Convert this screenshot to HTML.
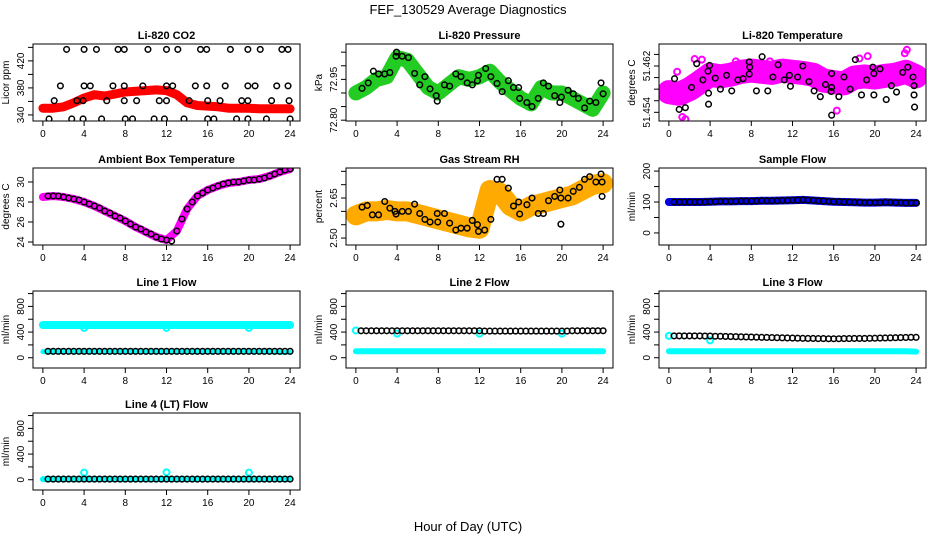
<!DOCTYPE html>
<html><head><meta charset="utf-8"><style>
html,body{margin:0;padding:0;background:#fff;}
svg{display:block;font-family:"Liberation Sans",Arial,sans-serif;}
</style></head><body>
<svg id="chart" width="936" height="540" viewBox="0 0 936 540" xmlns="http://www.w3.org/2000/svg">
<text x="468" y="14" text-anchor="middle" font-size="13">FEF_130529  Average Diagnostics</text>
<text x="468" y="531" text-anchor="middle" font-size="13">Hour of Day (UTC)</text>
</svg>
<script>
const HOURS=[0,1,2,3,4,5,6,7,8,9,10,11,12,13,14,15,16,17,18,19,20,21,22,23,24];
const HALF=[0.5,1,1.5,2,2.5,3,3.5,4,4.5,5,5.5,6,6.5,7,7.5,8,8.5,9,9.5,10,10.5,11,11.5,12,12.5,13,13.5,14,14.5,15,15.5,16,16.5,17,17.5,18,18.5,19,19.5,20,20.5,21,21.5,22,22.5,23,23.5,24];
const XTICKS=[0,4,8,12,16,20,24];

const co2Band=[350,350,352,358,365,370,368,371,374,375,376,377,376,370,358,354,353,352,350,350,350,349,349,349,349];
const co2Hours=[2.3,4.0,5.2,7.3,7.9,10.2,12.0,13.1,15.3,15.9,18.2,19.9,21.1,23.2,23.8,1.7,4.0,4.6,6.8,7.9,9.7,12.0,12.6,14.8,15.9,17.7,19.9,20.6,22.7,23.8,1.1,3.3,3.9,6.2,7.9,9.1,11.3,12.0,14.2,16.0,17.2,19.3,19.9,22.2,23.9,0.6,2.8,3.9,5.7,8.0,8.7,10.8,11.8,13.7,16.0,16.6,18.8,19.9,21.7,24.0];
const co2Vals=[437,437,437,437,437,437,437,437,437,437,437,437,437,437,437,383,383,383,383,383,383,383,383,383,383,383,383,383,383,383,361,361,361,361,361,361,361,361,361,361,361,361,361,361,361,334,334,334,334,334,334,334,334,334,334,334,334,334,334,334];

const presBand=[72.90,72.92,72.95,72.96,73.03,73.02,72.97,72.92,72.90,72.93,72.96,72.95,72.96,72.98,72.94,72.91,72.88,72.86,72.92,72.90,72.90,72.88,72.86,72.84,72.90];
const presHours=[0.6,1.2,1.7,2.2,2.8,3.3,3.9,3.95,4.5,5.1,5.7,6.2,6.7,7.2,7.8,7.9,8.6,9.1,9.7,10.2,10.8,11.3,11.8,11.9,12.6,13.1,13.7,14.2,14.8,15.3,15.8,15.9,16.6,17.1,17.7,18.2,18.7,19.3,19.8,19.95,20.6,21.1,21.6,22.2,22.7,23.3,23.8,24.0];
const presVals=[72.917,72.937,72.98,72.97,72.97,72.975,73.035,73.05,73.035,73.03,72.972,72.93,72.96,72.915,72.89,72.87,72.93,72.925,72.97,72.96,72.937,72.93,72.945,72.965,72.99,72.96,72.935,72.905,72.945,72.92,72.92,72.88,72.865,72.85,72.88,72.937,72.925,72.89,72.865,72.885,72.91,72.897,72.88,72.845,72.87,72.865,72.937,72.897];

const tempBand=[51.4555,51.4552,51.4560,51.4572,51.4585,51.4582,51.4585,51.4590,51.4592,51.4590,51.4588,51.4592,51.4590,51.4588,51.4585,51.4575,51.4572,51.4570,51.4580,51.4582,51.4580,51.4583,51.4585,51.4590,51.4582];
const tempHours=[0.55,1.0,1.6,2.2,2.7,3.3,3.8,3.85,3.85,3.95,4.5,5.0,5.6,6.1,6.7,7.2,7.8,7.85,7.8,8.5,9.05,9.6,10.1,10.6,11.2,11.7,11.8,12.5,13.0,13.6,14.1,14.7,15.2,15.8,15.8,15.75,15.8,16.5,17.0,17.6,18.1,18.7,19.2,19.8,19.9,19.9,20.5,21.1,21.6,22.1,22.7,23.2,23.7,23.8,23.8,23.85];
const tempVals=[51.4578,51.4525,51.4528,51.4563,51.4604,51.4576,51.4591,51.4553,51.4534,51.4601,51.4579,51.4560,51.4584,51.4557,51.4576,51.4578,51.4607,51.4598,51.4586,51.4557,51.4616,51.4557,51.4581,51.4602,51.4576,51.4584,51.4565,51.4581,51.4600,51.4573,51.4557,51.4547,51.4568,51.4587,51.4563,51.4556,51.4515,51.4547,51.4581,51.4560,51.4611,51.4550,51.4576,51.4598,51.4587,51.4550,51.4595,51.4542,51.4566,51.4555,51.4589,51.4598,51.4581,51.4566,51.4550,51.4529];
const tempOutHours=[1.3,1.6,2.5,3.2,0.8,18.5,19.3,22.9,23.1,6.5,9.8,16.3];
const tempOutVals=[51.4512,51.4508,51.4612,51.4611,51.4590,51.4613,51.4617,51.4622,51.4628,51.4608,51.4608,51.4523];

const ambBand=[28.5,28.6,28.5,28.3,28.0,27.6,27.1,26.6,26.1,25.5,25.0,24.5,24.2,25.1,27.3,28.6,29.2,29.6,29.9,30.0,30.2,30.3,30.6,31.0,31.3];
const ambVals=[28.6,28.6,28.6,28.5,28.4,28.3,28.2,28.0,27.8,27.6,27.4,27.1,26.9,26.6,26.4,26.1,25.8,25.5,25.3,25.0,24.8,24.5,24.3,24.2,24.1,25.1,26.3,27.3,28.0,28.6,28.9,29.2,29.4,29.6,29.8,29.9,30.0,30.0,30.1,30.2,30.2,30.3,30.4,30.6,30.8,31.0,31.2,31.3];

const rhBand=[2.585,2.60,2.60,2.605,2.60,2.60,2.59,2.58,2.57,2.56,2.55,2.54,2.535,2.68,2.67,2.62,2.60,2.62,2.63,2.64,2.65,2.66,2.68,2.70,2.705];
const rhHours=[0.6,1.1,1.6,2.2,2.8,3.3,3.8,3.9,4.5,5.1,5.7,6.2,6.7,7.2,7.9,7.95,8.6,9.1,9.7,10.2,10.8,11.3,11.8,11.9,12.5,13.1,13.7,14.2,14.8,15.3,15.8,15.9,16.6,17.1,17.7,18.2,18.7,19.3,19.8,19.9,19.9,20.6,21.1,21.7,22.2,22.7,23.3,23.8,23.9,23.9];
const rhVals=[2.616,2.622,2.587,2.587,2.637,2.612,2.60,2.59,2.60,2.60,2.627,2.592,2.57,2.56,2.592,2.56,2.592,2.556,2.53,2.537,2.537,2.566,2.55,2.525,2.53,2.57,2.72,2.72,2.687,2.62,2.635,2.59,2.625,2.65,2.592,2.592,2.64,2.656,2.68,2.65,2.552,2.65,2.675,2.69,2.72,2.73,2.71,2.74,2.71,2.656];

const sampBand=[100,100,100,100,101,102,102,103,103,104,104,105,106,107,105,103,101,100,99,98,98,99,98,97,97];
const sampVals=[100,100,100,100,100,100,100,101,101,102,102,102,102,103,103,103,103,104,104,104,104,105,105,106,106,107,106,105,104,103,102,101,101,100,100,99,99,98,98,98,98,99,99,98,98,97,97,97];

const l1Band=[510,510,510,510,510,510,510,510,510,510,510,510,510,510,510,510,510,510,510,510,510,510,510,510,510];
const l1Low=[95,95,95,95,95,95,95,95,95,95,95,95,95,95,95,95,95,95,95,95,95,95,95,85,85];
const l1OutHours=[4,12,20];
const l1OutVals=[465,465,465];
const l1Black=[100,100,100,100,100,100,100,100,100,100,100,100,100,100,100,100,100,100,100,100,100,100,100,100,100,100,100,100,100,100,100,100,100,100,100,100,100,100,100,100,100,100,100,100,100,100,100,100];

const l2Band=[100,100,100,100,100,100,100,100,100,100,100,100,100,100,100,100,100,100,100,100,100,100,100,100,100];
const l2OutHours=[0,4,12,20];
const l2OutVals=[425,375,375,375];
const l2Black=[420,420,420,420,420,420,420,420,420,420,420,420,420,420,420,420,420,420,420,420,420,420,420,420,415,415,415,415,415,415,415,415,415,415,415,415,415,415,415,415,415,420,420,420,420,420,420,420];

const l3Band=[100,100,100,100,100,100,100,100,100,100,100,100,100,100,100,100,100,100,100,100,100,100,100,100,95];
const l3OutHours=[0,4];
const l3OutVals=[340,270];
const l3Black=[340,340,340,340,340,340,338,338,335,335,332,330,328,326,324,322,320,318,316,314,312,310,308,306,304,302,300,300,298,298,296,296,296,298,298,300,300,300,302,304,306,308,310,312,314,316,318,318];

const l4Band=[10,10,10,10,10,10,10,10,10,10,10,10,10,10,10,10,10,10,10,10,10,10,10,10,10];
const l4OutHours=[4,12,20];
const l4OutVals=[110,115,110];
const l4Black=[10,10,10,10,10,10,10,10,10,10,10,10,10,10,10,10,10,10,10,10,10,10,10,10,10,10,10,10,10,10,10,10,10,10,10,10,10,10,10,10,10,10,10,10,10,10,10,10];

const svg=document.getElementById('chart');
const NS='http://www.w3.org/2000/svg';
const LEFTS=[33,346,659], TOPS=[44,168,291,413], W=267, H=77;
function mk(tag,attrs,parent){const e=document.createElementNS(NS,tag);for(const k in attrs)e.setAttribute(k,attrs[k]);(parent||svg).appendChild(e);return e;}

function panel(key,row,col,title,ytitle,y0,y1,ticks,labels){
  const g=mk('g',{});
  
  
  const L=LEFTS[col],T=TOPS[row];
  const xs=h=>L+(h+0.96)/25.92*W;
  const ys=v=>T+H-(v-y0)/(y1-y0)*H;
  const t=mk('text',{x:L+W/2,y:T-5,'text-anchor':'middle','font-size':11,'font-weight':'bold'},g);
  t.textContent=title;
  
  
  const yt=mk('text',{x:0,y:0,'text-anchor':'middle','font-size':10,transform:`translate(${L-24},${T+H/2}) rotate(-90)`},g);
  yt.textContent=ytitle;
  
  
  const ax=mk('g',{stroke:'#000','stroke-width':1},g);
  
  
  mk('line',{x1:xs(0),x2:xs(24),y1:T+H,y2:T+H},ax);
  XTICKS.forEach(h=>{mk('line',{x1:xs(h),x2:xs(h),y1:T+H,y2:T+H+5},ax);
    const lb=mk('text',{x:xs(h),y:T+H+16,'text-anchor':'middle','font-size':10,stroke:'none'},g);
    lb.textContent=h;
    
    });
  mk('line',{x1:L,x2:L,y1:ys(ticks[0]),y2:ys(ticks[ticks.length-1])},ax);
  ticks.forEach((v,i)=>{mk('line',{x1:L-5,x2:L,y1:ys(v),y2:ys(v)},ax);
    if(labels[i]!==''){const lb=mk('text',{x:0,y:0,'text-anchor':'middle','font-size':10,stroke:'none',transform:`translate(${L-9},${ys(v)}) rotate(-90)`},g);
      lb.textContent=labels[i];
      
      }});
  const clip='clip-'+key;
  const cp=mk('clipPath',{id:clip},g);mk('rect',{x:L,y:T,width:W,height:H},cp);
  const plot=mk('g',{'clip-path':`url(#${clip})`},g);
  
  
  const box=mk('rect',{x:L,y:T,width:W,height:H,fill:'none',stroke:'#000','stroke-width':1},g);
  
  
  return {xs,ys,plot};
}
function band(p,hours,vals,color,width,name){
  const pts=hours.map((h,i)=>p.xs(h).toFixed(1)+','+p.ys(vals[i]).toFixed(1)).join(' ');
  const pl=mk('polyline',{points:pts,fill:'none',stroke:color,'stroke-width':width,'stroke-linejoin':'round','stroke-linecap':'round'},p.plot);
  
  
}
function pts(p,hours,vals,color,name,r,sw){
  hours.forEach((h,i)=>{const c=mk('circle',{cx:p.xs(h),cy:p.ys(vals[i]),r:r||2.8,fill:'none',stroke:color,'stroke-width':sw||1.5},p.plot);
    
    });
}
const flowTicks=[0,200,400,600,800,1000], flowLabels=['0','','400','','800',''];

let p=panel('co2',0,0,'Li-820 CO2','Licor ppm',331,445,[340,360,380,400,420,440],['340','','380','','420','']);
band(p,HOURS,co2Band,'#ff0000',9,'co2-red-series');
pts(p,co2Hours,co2Vals,'#000','co2-black-point');

p=panel('pressure',0,1,'Li-820 Pressure','kPa',72.797,73.08,[72.80,72.85,72.90,72.95,73.00,73.05],['72.80','','','72.95','','']);
band(p,HOURS,presBand,'#22cc22',15,'pressure-green-series');
pts(p,presHours,presVals,'#000','pressure-black-point');

p=panel('li-temp',0,2,'Li-820 Temperature','degrees C',51.4505,51.4638,[51.452,51.454,51.456,51.458,51.460,51.462],['51.454','','','','51.462','']);
band(p,HOURS,tempBand,'#ff00ff',24,'li-temp-magenta-series');
pts(p,tempOutHours,tempOutVals,'#ff00ff','li-temp-magenta-point',3,2);
pts(p,tempHours,tempVals,'#000','li-temp-black-point');

p=panel('ambient',1,0,'Ambient Box Temperature','degrees C',23.7,31.4,[24,26,28,30],['24','26','28','30']);
band(p,HOURS,ambBand,'#ff00ff',8,'ambient-magenta-series');
pts(p,HALF,ambVals,'#000','ambient-black-point');

p=panel('rh',1,1,'Gas Stream RH','percent',2.474,2.7625,[2.50,2.55,2.60,2.65,2.70,2.75],['2.50','','','2.65','','']);
band(p,HOURS,rhBand,'#ffaa00',20,'rh-orange-series');
pts(p,rhHours,rhVals,'#000','rh-black-point');

p=panel('sample',1,2,'Sample Flow','ml/min',-39,210,[0,50,100,150,200],['0','','100','','200']);
band(p,HOURS,sampBand,'#0000ee',8,'sample-blue-series');
pts(p,HALF,sampVals,'#000','sample-black-point');

p=panel('line1',2,0,'Line 1 Flow','ml/min',-160,1040,flowTicks,flowLabels);
band(p,HOURS,l1Band,'#00ffff',8,'line1-cyan-series');
band(p,HOURS,l1Low,'#00ffff',5,'line1-cyan-low-series');
pts(p,l1OutHours,l1OutVals,'#00ffff','line1-cyan-outlier',3,2);
pts(p,HALF,l1Black,'#000','line1-black-point');

p=panel('line2',2,1,'Line 2 Flow','ml/min',-160,1040,flowTicks,flowLabels);
band(p,HOURS,l2Band,'#00ffff',6,'line2-cyan-series');
pts(p,l2OutHours,l2OutVals,'#00ffff','line2-cyan-outlier',3,2);
pts(p,HALF,l2Black,'#000','line2-black-point');

p=panel('line3',2,2,'Line 3 Flow','ml/min',-160,1040,flowTicks,flowLabels);
band(p,HOURS,l3Band,'#00ffff',6,'line3-cyan-series');
pts(p,l3OutHours,l3OutVals,'#00ffff','line3-cyan-outlier',3,2);
pts(p,HALF,l3Black,'#000','line3-black-point');

p=panel('line4',3,0,'Line 4 (LT) Flow','ml/min',-160,1040,flowTicks,flowLabels);
band(p,HOURS,l4Band,'#00ffff',6,'line4-cyan-series');
pts(p,l4OutHours,l4OutVals,'#00ffff','line4-cyan-outlier',3,2);
pts(p,HALF,l4Black,'#000','line4-black-point');
</script>
</body></html>
